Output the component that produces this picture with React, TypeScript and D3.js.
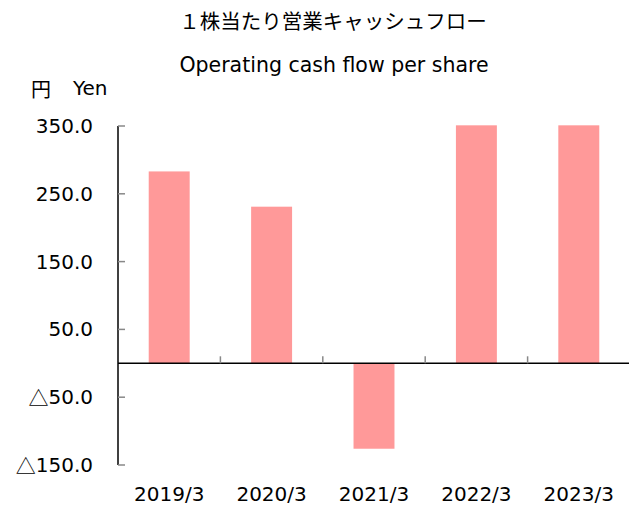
import { useEffect, useRef } from "react"
import * as d3 from "d3"

const categories = ["2019/3", "2020/3", "2021/3", "2022/3", "2023/3"]
const values = [283, 231, -126, 351, 351]
const tickValues = [350, 250, 150, 50, -50, -150]

export default function App() {
  const svgRef = useRef<SVGSVGElement>(null)

  useEffect(() => {
    if (!svgRef.current) return
    const svg = d3.select(svgRef.current)
    svg.selectAll("*").remove()

    const width = 629
    const height = 506
    const font = "'DejaVu Sans', Verdana, sans-serif"
    const jpFont = "'Noto Sans CJK JP', sans-serif"

    const x = d3.scaleBand<string>().domain(categories).range([118, 630]).paddingInner(0.6).paddingOuter(0.3)
    const y = d3.scaleLinear().domain([-150, 350]).range([465, 126])

    // titles
    svg.append("text")
      .attr("x", 333).attr("y", 20)
      .attr("text-anchor", "middle")
      .attr("dominant-baseline", "central")
      .style("font-family", jpFont).style("font-size", "20.5px")
      .text("１株当たり営業キャッシュフロー")

    svg.append("text")
      .attr("x", 334).attr("y", 65)
      .attr("text-anchor", "middle")
      .attr("dominant-baseline", "central")
      .style("font-family", font).style("font-size", "20.5px")
      .text("Operating cash flow per share")

    svg.append("text")
      .attr("x", 31).attr("y", 88)
      .attr("dominant-baseline", "central")
      .style("font-family", jpFont).style("font-size", "20px")
      .text("円")
    svg.append("text")
      .attr("x", 73).attr("y", 88)
      .attr("dominant-baseline", "central")
      .style("font-family", font).style("font-size", "20px")
      .text("Yen")

    // bars
    svg.selectAll("rect.bar")
      .data(values)
      .enter()
      .append("rect")
      .attr("class", "bar")
      .attr("x", (_, i) => x(categories[i])!)
      .attr("width", x.bandwidth())
      .attr("y", (d) => y(Math.max(0, d)))
      .attr("height", (d) => Math.abs(y(d) - y(0)))
      .style("fill", "#ff9999")

    // y axis
    svg.append("line")
      .attr("x1", 118).attr("x2", 118)
      .attr("y1", y(350)).attr("y2", y(-150))
      .style("stroke", "#000").style("stroke-width", 1.5)

    tickValues.forEach((t) => {
      svg.append("line")
        .attr("x1", 118).attr("x2", 125)
        .attr("y1", y(t)).attr("y2", y(t))
        .style("stroke", "#888").style("stroke-width", 1.5)
      const label = svg.append("text")
        .attr("x", 93).attr("y", y(t))
        .attr("text-anchor", "end")
        .attr("dominant-baseline", "central")
        .style("font-family", font).style("font-size", "20px")
      if (t < 0) {
        label.append("tspan").style("font-family", jpFont).text("△")
      }
      label.append("tspan").text(Math.abs(t).toFixed(1))
    })

    // zero line
    svg.append("line")
      .attr("x1", 118).attr("x2", 630)
      .attr("y1", y(0)).attr("y2", y(0))
      .style("stroke", "#000").style("stroke-width", 1.5)

    // category separators
    const step = x.step()
    categories.forEach((c, i) => {
      const cx = x(c)! + x.bandwidth() / 2
      if (i > 0) {
        svg.append("line")
          .attr("x1", cx - step / 2).attr("x2", cx - step / 2)
          .attr("y1", y(0) - 7).attr("y2", y(0))
          .style("stroke", "#888").style("stroke-width", 1.5)
      }
      svg.append("text")
        .attr("x", cx).attr("y", 494)
        .attr("text-anchor", "middle")
        .attr("dominant-baseline", "central")
        .style("font-family", font).style("font-size", "20px")
        .text(c)
    })

    svg.attr("width", width).attr("height", height)
  }, [])

  return (
    <div style={{ position: "absolute", left: 0, top: 0 }}>
      <svg ref={svgRef} style={{ display: "block", background: "#fff" }} />
    </div>
  )
}
